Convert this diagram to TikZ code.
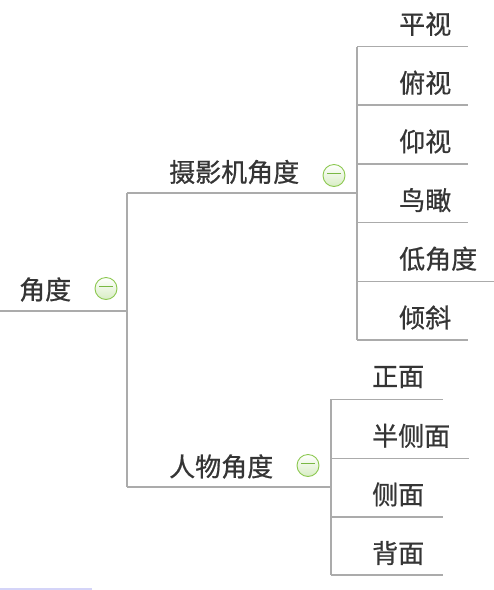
\documentclass[tikz,border=0pt]{standalone}
\usepackage{fontspec}
\newfontfamily\cjk[FakeBold=0.7]{Noto Sans CJK SC}
\definecolor{linegray}{HTML}{ABABAB}
\definecolor{textgray}{HTML}{353535}
\definecolor{icongreen}{HTML}{8CC850}
\definecolor{iconfill}{HTML}{D8EDC4}
\definecolor{dashgreen}{HTML}{79B843}
\definecolor{faintblue}{HTML}{D4D4F8}
\begin{document}
\begin{tikzpicture}[x=1pt,y=-1pt,
  conn/.style={draw=linegray, line width=1.6pt},
  lbl/.style={anchor=west, inner sep=0pt, text=textgray, font=\cjk\fontsize{26}{30}\selectfont},
  toggle/.style={circle, minimum size=22pt, inner sep=0pt, draw=icongreen, line width=0.9pt, top color=white, bottom color=iconfill},
  dash line/.style={draw=dashgreen, line width=1.6pt}]
\useasboundingbox (0,0) rectangle (494,590);

% root
\node[lbl] (root) at (19,289.5) {角度};
\node[toggle] (t0) at (106,288.5) {};
\draw[dash line] (t0.center) ++(-7,-2) -- ++(14,0);
\coordinate (r0) at (0,310.7);
\coordinate (r1) at (127,310.7);
\draw[conn] (r0) -- (r1);

% trunk
\coordinate (j1) at (127,192.7);
\coordinate (j2) at (127,486.7);
\draw[conn] (j1) -- (j2);

% camera angle
\node[lbl] (cam) at (169,172) {摄影机角度};
\node[toggle] (t1) at (334,175.5) {};
\draw[dash line] (t1.center) ++(-7,-2) -- ++(14,0);
\coordinate (c1) at (357,192.7);
\draw[conn] (j1) -- (c1);

% person angle
\node[lbl] (per) at (169,466.5) {人物角度};
\node[toggle] (t2) at (308,465.5) {};
\draw[dash line] (t2.center) ++(-7,-2) -- ++(14,0);
\coordinate (p1) at (331,486.7);
\draw[conn] (j2) -- (p1);

% camera leaves
\coordinate (ca) at (357,46.5);
\coordinate (cb) at (357,340);
\draw[conn] (ca) -- (cb);
\node[lbl] (l1) at (399,24) {平视};
\node[lbl] (l2) at (399,82.7) {俯视};
\node[lbl] (l3) at (399,141.4) {仰视};
\node[lbl] (l4) at (399,200.1) {鸟瞰};
\node[lbl] (l5) at (399,258.8) {低角度};
\node[lbl] (l6) at (399,317.5) {倾斜};
\coordinate (e1) at (468,46.5);
\coordinate (s2) at (357,105.2);  \coordinate (e2) at (468,105.2);
\coordinate (s3) at (357,163.9);  \coordinate (e3) at (468,163.9);
\coordinate (s4) at (357,222.6);  \coordinate (e4) at (468,222.6);
\coordinate (s5) at (357,281.3);  \coordinate (e5) at (494,281.3);
\coordinate (e6) at (468,340);
\draw[conn] (ca) -- (e1);
\draw[conn] (s2) -- (e2);
\draw[conn] (s3) -- (e3);
\draw[conn] (s4) -- (e4);
\draw[conn] (s5) -- (e5);
\draw[conn] (cb) -- (e6);

% person leaves
\coordinate (pa) at (331,399.3);
\coordinate (pb) at (331,575);
\draw[conn] (pa) -- (pb);
\node[lbl] (m1) at (372,377) {正面};
\node[lbl] (m2) at (372,435.8) {半侧面};
\node[lbl] (m3) at (372,494.4) {侧面};
\node[lbl] (m4) at (372,553) {背面};
\coordinate (f1) at (443,399.3);
\coordinate (q2) at (331,458.3); \coordinate (f2) at (469,458.3);
\coordinate (q3) at (331,516.7); \coordinate (f3) at (443,516.7);
\coordinate (f4) at (443,575);
\draw[conn] (pa) -- (f1);
\draw[conn] (q2) -- (f2);
\draw[conn] (q3) -- (f3);
\draw[conn] (pb) -- (f4);

% faint line at bottom left
\coordinate (b0) at (0,589);
\coordinate (b1) at (92,589);
\draw[draw=faintblue, line width=1.5pt] (b0) -- (b1);
\end{tikzpicture}
\end{document}
